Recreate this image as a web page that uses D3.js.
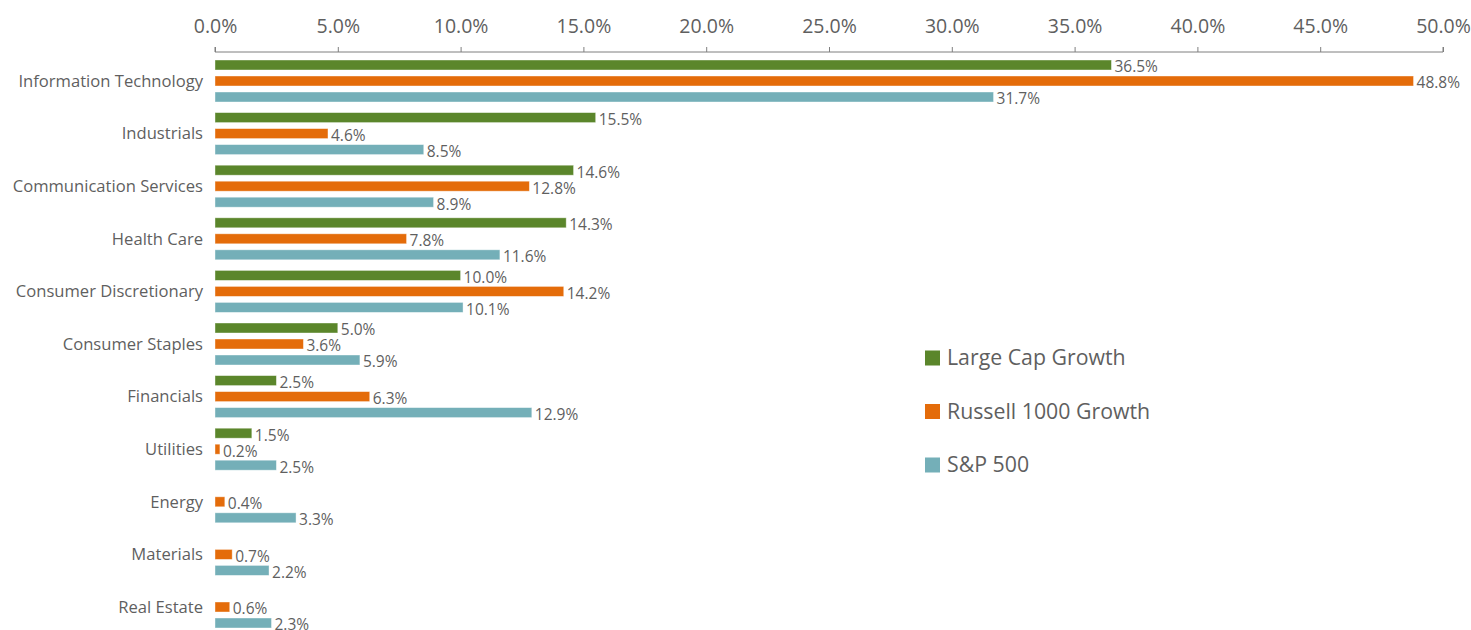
<!DOCTYPE html>
<html>
<head>
<meta charset="utf-8">
<script src="https://cdn.jsdelivr.net/npm/d3@7"></script>
<style>
  body { margin: 0; background: #fff; }
  svg { display: block; font-family: "Open Sans", "Noto Sans", sans-serif; }
</style>
</head>
<body>
<svg id="chart" width="1471" height="630"></svg>
<script>
// sectors, top to bottom
const sectors = ["Information Technology", "Industrials", "Communication Services", "Health Care",
  "Consumer Discretionary", "Consumer Staples", "Financials", "Utilities", "Energy", "Materials", "Real Estate"]

const seriesNames = ["Large Cap Growth", "Russell 1000 Growth", "S&P 500"]
const seriesColors = ["#5b862b", "#e46c0a", "#74afb8"]

// null = no holding, no bar drawn
const largeCapGrowth = [36.5, 15.5, 14.6, 14.3, 10.0, 5.0, 2.5, 1.5, null, null, null]
const russell1000Growth = [48.8, 4.6, 12.8, 7.8, 14.2, 3.6, 6.3, 0.2, 0.4, 0.7, 0.6]
const sp500 = [31.7, 8.5, 8.9, 11.6, 10.1, 5.9, 12.9, 2.5, 3.3, 2.2, 2.3]

const xTicks = [0, 5, 10, 15, 20, 25, 30, 35, 40, 45, 50]

const allSeries = [largeCapGrowth, russell1000Growth, sp500]

let margin = { top: 52, left: 215 },
  plotRight = 1443,
  textColor = "#5f5f5f"

let svg = d3.select("#chart")

let x = d3.scaleLinear()
  .domain([0, 50])
  .range([margin.left, plotRight])

let y = d3.scaleBand()
  .domain(sectors)
  .range([54.7, 633.3])

let ySub = d3.scaleBand()
  .domain(seriesNames)
  .range([2.3, y.bandwidth() - 2.3])
  .paddingInner(0.375)
  .paddingOuter(0.1875)

// top axis
let xAxis = svg.append("g")
  .attr("transform", "translate(0," + margin.top + ")")
  .call(d3.axisTop(x).tickValues(xTicks).tickSize(5).tickPadding(14)
    .tickFormat(d => d3.format(".1f")(d) + "%"))

xAxis.attr("font-family", null)
xAxis.select(".domain").attr("stroke", "#7f7f7f").attr("d", "M" + x(0) + ",-5V0H" + x(50) + "V-5")
xAxis.selectAll(".tick line").attr("stroke", "#7f7f7f")
xAxis.selectAll(".tick text")
  .attr("fill", textColor)
  .style("font-size", "19.5px")

// category labels
svg.append("g").selectAll("text")
  .data(sectors)
  .enter().append("text")
  .attr("x", margin.left - 12)
  .attr("y", d => y(d) + y.bandwidth() / 2)
  .attr("dy", "0.35em")
  .attr("text-anchor", "end")
  .attr("fill", textColor)
  .style("font-size", "16.6px")
  .text(d => d)

// bars + value labels, one group per series
allSeries.forEach(function(values, i) {
  let name = seriesNames[i]
  let rows = sectors.map((s, j) => ({ sector: s, value: values[j] }))
    .filter(d => d.value !== null)

  let g = svg.append("g")

  g.selectAll("rect")
    .data(rows)
    .enter().append("rect")
    .attr("x", x(0))
    .attr("y", d => y(d.sector) + ySub(name))
    .attr("width", d => x(d.value) - x(0))
    .attr("height", ySub.bandwidth())
    .attr("fill", seriesColors[i])
    .attr("stroke", "#ffffff")
    .attr("stroke-opacity", 0.5)
    .attr("stroke-width", 0.8)

  g.selectAll("text")
    .data(rows)
    .enter().append("text")
    .attr("x", d => x(d.value) + 3)
    .attr("y", d => y(d.sector) + ySub(name) + ySub.bandwidth() / 2 + 2)
    .attr("dy", "0.35em")
    .attr("fill", textColor)
    .style("font-size", "15.5px")
    .text(d => d3.format(".1f")(d.value) + "%")
})

// legend
let legend = svg.append("g")
  .attr("transform", "translate(925,358)")

let item = legend.selectAll("g")
  .data(seriesNames)
  .enter().append("g")
  .attr("transform", (d, i) => "translate(0," + i * 53.5 + ")")

item.append("rect")
  .attr("x", 0)
  .attr("y", -7.5)
  .attr("width", 15)
  .attr("height", 15)
  .attr("fill", (d, i) => seriesColors[i])

item.append("text")
  .attr("x", 22)
  .attr("y", 0)
  .attr("dy", "0.35em")
  .attr("fill", textColor)
  .style("font-size", "21.3px")
  .text(d => d)
</script>
</body>
</html>
